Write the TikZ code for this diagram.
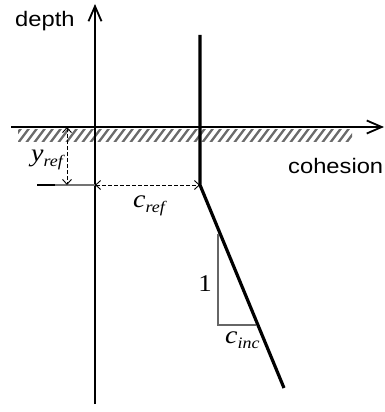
\documentclass[tikz,border=0pt]{standalone}
\usepackage{fontspec}
\setmainfont{Liberation Serif}
\newfontfamily\labelsans[FakeStretch=1.13]{Liberation Sans}
\newfontfamily\labelserif[FakeStretch=1.12]{Liberation Serif}
\usetikzlibrary{arrows.meta}
\tikzset{
  axis/.style={line width=1.8pt, -{Straight Barb[length=15pt,width=13pt,line width=1.8pt]}},
  thickline/.style={line width=3.2pt},
  dim/.style={line width=0.9pt, dash pattern=on 3.5pt off 2.5pt, {Straight Barb[length=5pt,width=9pt,line width=0.9pt]}-{Straight Barb[length=5pt,width=9pt,line width=0.9pt]}},
  tri/.style={line width=1.1pt, draw=black!60},
  hatch/.style={line width=2.3pt, draw=black!58},
  sanslabel/.style={font=\labelsans\fontsize{21}{21}\selectfont, inner sep=0pt},
  mathlabel/.style={font=\labelserif\fontsize{25}{25}\selectfont\itshape, inner sep=0pt},
}
\newcommand{\sublab}[2]{#1\raisebox{-5pt}{\fontsize{16}{16}\selectfont #2}}
\begin{document}
\begin{tikzpicture}[x=1pt,y=-1pt]
\useasboundingbox (0,0) rectangle (385,412);
% hatched band
\begin{scope}
  \clip (18,129) rectangle (352,141.5);
  \foreach \i in {0,...,45} {
    \draw[hatch] ({10+8*\i},143) -- ({22+8*\i},127);
  }
\end{scope}
% coordinates
\coordinate (vbot) at (95,404);
\coordinate (vtop) at (95,4);
\coordinate (hleft) at (11,127);
\coordinate (hright) at (384,127);
\coordinate (ctop) at (200,35);
\coordinate (ccorner) at (200,185);
\coordinate (cend) at (284,388);
\coordinate (origin) at (95,185);
\coordinate (lstart) at (37,185);
\coordinate (lmid) at (55,185);
\coordinate (ytop) at (67,127);
\coordinate (ybot) at (67,185);
\coordinate (ttop) at (218,234);
\coordinate (tcorner) at (218,325);
\coordinate (tright) at (256,325);
% axes
\draw[axis] (vbot) -- (vtop);
\draw[axis] (hleft) -- (hright);
% cohesion profile
\draw[thickline, line join=miter] (ctop) -- (ccorner) -- (cend);
% reference line
\draw[line width=1.8pt] (lstart) -- (lmid);
\draw[line width=1.4pt, draw=black!55] (lmid) -- (origin);
% dimensions
\draw[dim] (ytop) -- (ybot);
\draw[dim] (origin) -- (ccorner);
% triangle
\draw[tri] (ttop) -- (tcorner) -- (tright);
% labels
\node[sanslabel, anchor=base west] (depth) at (15,27) {depth};
\node[sanslabel, anchor=base west] (cohesion) at (288,173) {cohesion};
\node[mathlabel, anchor=base west] (yref) at (31,161) {\sublab{y}{ref}};
\node[mathlabel, anchor=base west] (cref) at (133,207) {\sublab{c}{ref}};
\node[mathlabel, anchor=base west] (cinc) at (225,343) {\sublab{c}{inc}};
\node[font=\labelserif\fontsize{24}{24}\selectfont, inner sep=0pt, anchor=base] (one) at (205,291) {1};
\end{tikzpicture}
\end{document}
